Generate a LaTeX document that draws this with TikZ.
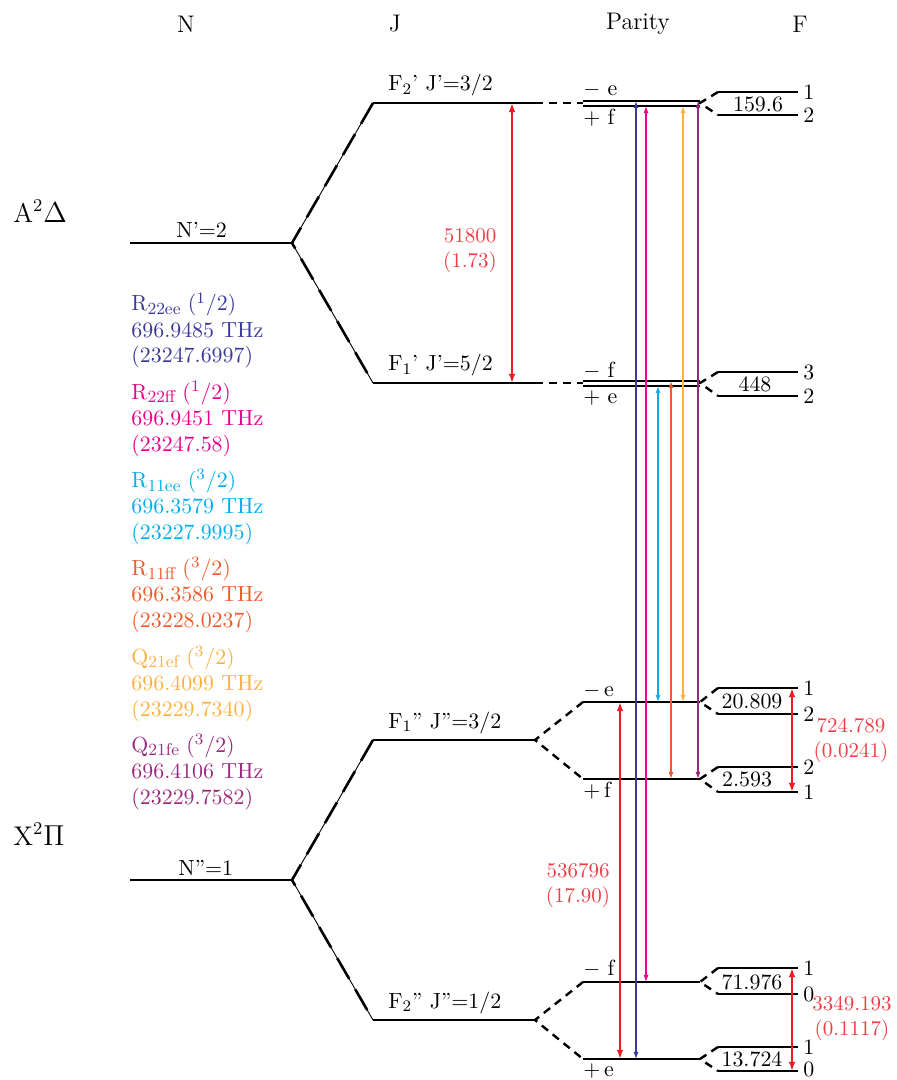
\documentclass[tikz,border=0pt]{standalone}
\usepackage{xcolor}
\usepackage{tikz}
\usetikzlibrary{arrows.meta,positioning}
\definecolor{specRed}{HTML}{ED1C24}
\definecolor{specRedText}{HTML}{F03C44}
\definecolor{specNavy}{HTML}{3A3A9A}
\definecolor{specPink}{HTML}{EC008C}
\definecolor{specCyan}{HTML}{00AEEF}
\definecolor{specOrange}{HTML}{F15A29}
\definecolor{specGold}{HTML}{FBB040}
\definecolor{specPlum}{HTML}{9B2A7E}
\newcommand{\specsub}[1]{\raisebox{-1.8pt}{\fontsize{8.5}{9}\selectfont #1}}
\tikzset{
  specHead/.style={font=\large, inner sep=0pt},
  specState/.style={font=\fontsize{13.5}{16}\selectfont, anchor=west, inner sep=0pt},
  specLevel/.style={line width=1.2pt},
  specSplit/.style={
    line width=0.45pt,
    postaction={draw, line width=1.3pt, dash pattern=on 12pt off 6pt}
  },
  specLink/.style={line width=1.2pt, dash pattern=on 4pt off 3pt},
  specTag/.style={anchor=base west, inner sep=0pt},
  specF/.style={anchor=west, inner sep=0pt, xshift=2.5pt},
  specNote/.style={align=left, anchor=base west, inner sep=0pt},
  specGapText/.style={align=center, inner sep=0pt, text=specRedText,
    font=\fontsize{10.5}{12.5}\selectfont},
  specTrans/.style={
    {Latex[length=3.6pt,width=2.6pt]}-{Latex[length=3.6pt,width=2.6pt]},
    line width=0.65pt
  },
  specGap/.style={
    {Latex[length=4.6pt,width=3.4pt]}-{Latex[length=4.6pt,width=3.4pt]},
    color=specRed,
    line width=1pt
  }
}
\begin{document}
\begin{tikzpicture}[
  x=0.5pt, y=-0.5pt,
  font=\fontsize{10.95}{13}\selectfont
]
\useasboundingbox (0,0) rectangle (896,1080);

% column headers
\node[specHead] (hdN) at (186,24) {N};
\node[specHead] (hdJ) at (395,24) {J};
\node[specHead] (hdP) at (638,24) {Parity};
\node[specHead] (hdF) at (800,24) {F};

% electronic states
\node[specState] (stA) at (13,211) {A$^2\Delta$};
\node[specState] (stX) at (13,834) {X$^2\Pi$};

% rotational levels N
\draw[specLevel] (130,243) coordinate (nA-l) -- (292,243) coordinate (nA-r);
\draw[specLevel] (130,880) coordinate (nX-l) -- (292,880) coordinate (nX-r);
\node[specTag] (nA-t) at (176,238) {N'=2};
\node[specTag] (nX-t) at (178,875) {N''=1};

% spin-rotation levels J
\draw[specLevel] (373,103) coordinate (jA2-l) -- (535,103) coordinate (jA2-r);
\draw[specLevel] (373,383) coordinate (jA1-l) -- (535,383) coordinate (jA1-r);
\draw[specLevel] (373,740) coordinate (jX1-l) -- (535,740) coordinate (jX1-r);
\draw[specLevel] (373,1020) coordinate (jX2-l) -- (535,1020) coordinate (jX2-r);
\node[specTag] (jA2-t) at (388,91) {F$_2$' J'=3/2};
\node[specTag] (jA1-t) at (388,371) {F$_1$' J'=5/2};
\node[specTag] (jX1-t) at (388,728) {F$_1$'' J''=3/2};
\node[specTag] (jX2-t) at (388,1008) {F$_2$'' J''=1/2};

\draw[specSplit] (jA2-l) -- (nA-r) -- (jA1-l);
\draw[specSplit] (jX1-l) -- (nX-r) -- (jX2-l);

% parity doublets
\draw[specLevel] (583,101) coordinate (pA2e-l) -- (700,101) coordinate (pA2e-r);
\draw[specLevel] (583,106) coordinate (pA2f-l) -- (700,106) coordinate (pA2f-r);
\draw[specLevel] (583,381) coordinate (pA1f-l) -- (700,381) coordinate (pA1f-r);
\draw[specLevel] (583,386) coordinate (pA1e-l) -- (700,386) coordinate (pA1e-r);
\draw[specLevel] (583,702) coordinate (pX1e-l) -- (700,702) coordinate (pX1e-r);
\draw[specLevel] (583,779) coordinate (pX1f-l) -- (700,779) coordinate (pX1f-r);
\draw[specLevel] (583,982) coordinate (pX2f-l) -- (700,982) coordinate (pX2f-r);
\draw[specLevel] (583,1059) coordinate (pX2e-l) -- (700,1059) coordinate (pX2e-r);
\node[specTag] (pA2e-t) at (583,96) {$-$ e};
\node[specTag] (pA2f-t) at (583,125) {$+$ f};
\node[specTag] (pA1f-t) at (583,377) {$-$ f};
\node[specTag] (pA1e-t) at (583,403) {$+$ e};
\node[specTag] (pX1e-t) at (583,696) {$-$\,e};
\node[specTag] (pX1f-t) at (583,797) {$+$\,f};
\node[specTag] (pX2f-t) at (583,975) {$-$ f};
\node[specTag] (pX2e-t) at (583,1076) {$+$\,e};

\draw[specLink] (jA2-r) -- (jA2-r -| pA2e-l);
\draw[specLink] (jA1-r) -- (jA1-r -| pA1f-l);
\draw[specLink] (pX1e-l) -- (jX1-r) -- (pX1f-l);
\draw[specLink] (pX2f-l) -- (jX2-r) -- (pX2e-l);

% hyperfine levels F
\draw[specLevel] (718,92) coordinate (fA2a-l) -- (798,92) coordinate (fA2a-r);
\draw[specLevel] (718,115) coordinate (fA2b-l) -- (798,115) coordinate (fA2b-r);
\draw[specLevel] (718,372) coordinate (fA1a-l) -- (798,372) coordinate (fA1a-r);
\draw[specLevel] (718,396) coordinate (fA1b-l) -- (798,396) coordinate (fA1b-r);
\draw[specLevel] (718,688) coordinate (fX1a-l) -- (798,688) coordinate (fX1a-r);
\draw[specLevel] (718,714) coordinate (fX1b-l) -- (798,714) coordinate (fX1b-r);
\draw[specLevel] (718,767) coordinate (fX1c-l) -- (798,767) coordinate (fX1c-r);
\draw[specLevel] (718,792) coordinate (fX1d-l) -- (798,792) coordinate (fX1d-r);
\draw[specLevel] (718,968) coordinate (fX2a-l) -- (798,968) coordinate (fX2a-r);
\draw[specLevel] (718,994) coordinate (fX2b-l) -- (798,994) coordinate (fX2b-r);
\draw[specLevel] (718,1047) coordinate (fX2c-l) -- (798,1047) coordinate (fX2c-r);
\draw[specLevel] (718,1071) coordinate (fX2d-l) -- (798,1071) coordinate (fX2d-r);

\node[specF] (fA2a-n) at (fA2a-r) {1};
\node[specF] (fA2b-n) at (fA2b-r) {2};
\node[specF] (fA1a-n) at (fA1a-r) {3};
\node[specF] (fA1b-n) at (fA1b-r) {2};
\node[specF] (fX1a-n) at (fX1a-r) {1};
\node[specF] (fX1b-n) at (fX1b-r) {2};
\node[specF] (fX1c-n) at (fX1c-r) {2};
\node[specF] (fX1d-n) at (fX1d-r) {1};
\node[specF] (fX2a-n) at (fX2a-r) {1};
\node[specF] (fX2b-n) at (fX2b-r) {0};
\node[specF] (fX2c-n) at (fX2c-r) {1};
\node[specF, yshift=1pt] (fX2d-n) at (fX2d-r) {0};

\node[inner sep=0pt] (fA2-v) at (758,104) {159.6};
\node[inner sep=0pt] (fA1-v) at (755,384) {448};
\node[inner sep=0pt] (fX1u-v) at (752,701) {20.809};
\node[inner sep=0pt] (fX1d-v) at (747,779) {2.593};
\node[inner sep=0pt] (fX2u-v) at (752,982) {71.976};
\node[inner sep=0pt] (fX2d-v) at (752,1059) {13.724};

\draw[specLink] (fA2a-l) -- (jA2-r -| pA2e-r) -- (fA2b-l);
\draw[specLink] (fA1a-l) -- (jA1-r -| pA1f-r) -- (fA1b-l);
\draw[specLink] (fX1a-l) -- (pX1e-r) -- (fX1b-l);
\draw[specLink] (fX1c-l) -- (pX1f-r) -- (fX1d-l);
\draw[specLink] (fX2a-l) -- (pX2f-r) -- (fX2b-l);
\draw[specLink] (fX2c-l) -- (pX2e-r) -- (fX2d-l);

% splittings in MHz (cm^-1)
\coordinate (xGapA) at (512,0);
\coordinate (xGapX) at (620,0);
\coordinate (xGapF) at (792,0);
\draw[specGap] (xGapA |- jA2-r) -- (xGapA |- jA1-r);
\draw[specGap] (xGapX |- pX1e-l) -- (xGapX |- pX2e-l);
\draw[specGap] (xGapF |- fX1a-r) -- (xGapF |- fX1d-r);
\draw[specGap] (xGapF |- fX2a-r) -- (xGapF |- fX2d-r);
\node[specGapText] (gapA-t) at (470,251) {51800\\(1.73)};
\node[specGapText] (gapX-t) at (578,886) {536796\\(17.90)};
\node[specGapText] (gapF1-t) at (851,741) {724.789\\(0.0241)};
\node[specGapText] (gapF2-t) at (852,1019) {3349.193\\(0.1117)};

% transitions
\coordinate (xNavy) at (636,0);
\coordinate (xPink) at (646,0);
\coordinate (xCyan) at (658,0);
\coordinate (xOrange) at (671,0);
\coordinate (xGold) at (683,0);
\coordinate (xPlum) at (698,0);
\draw[specTrans, color=specNavy] (xNavy |- pX2e-l) -- (xNavy |- pA2e-l);
\draw[specTrans, color=specPink] (xPink |- pX2f-l) -- (xPink |- pA2f-l);
\draw[specTrans, color=specCyan] (xCyan |- pX1e-l) -- (xCyan |- pA1e-l);
\draw[specTrans, color=specOrange] (xOrange |- pX1f-l) -- (xOrange |- pA1f-l);
\draw[specTrans, color=specGold] (xGold |- pX1e-l) -- (xGold |- pA2f-l);
\draw[specTrans, color=specPlum] (xPlum |- pX1f-l) -- (xPlum |- pA2e-l);

% line list
\node[specNote, text=specNavy] (r22ee) at (131,363)
  {R\specsub{22ee} (\textsuperscript{1}/2)\\696.9485 THz\\(23247.6997)};
\node[specNote, text=specPink, below=5.7pt of r22ee.south west,
  anchor=north west] (r22ff)
  {R\specsub{22ff} (\textsuperscript{1}/2)\\696.9451 THz\\(23247.58)};
\node[specNote, text=specCyan, below=5.7pt of r22ff.south west,
  anchor=north west] (r11ee)
  {R\specsub{11ee} (\textsuperscript{3}/2)\\696.3579 THz\\(23227.9995)};
\node[specNote, text=specOrange, below=5.7pt of r11ee.south west,
  anchor=north west] (r11ff)
  {R\specsub{11ff} (\textsuperscript{3}/2)\\696.3586 THz\\(23228.0237)};
\node[specNote, text=specGold, below=5.7pt of r11ff.south west,
  anchor=north west] (q21ef)
  {Q\specsub{21ef} (\textsuperscript{3}/2)\\696.4099 THz\\(23229.7340)};
\node[specNote, text=specPlum, below=5.7pt of q21ef.south west,
  anchor=north west] (q21fe)
  {Q\specsub{21fe} (\textsuperscript{3}/2)\\696.4106 THz\\(23229.7582)};
\end{tikzpicture}
\end{document}
